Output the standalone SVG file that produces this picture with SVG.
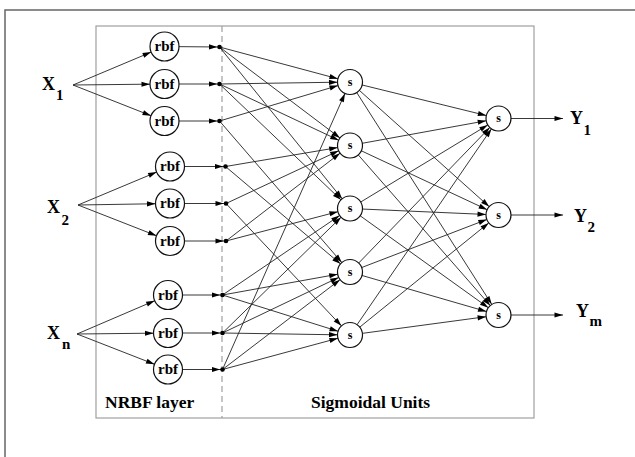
<svg xmlns="http://www.w3.org/2000/svg" width="635" height="457" viewBox="0 0 635 457">
  <style>
    .frame { fill: none; stroke: #666; stroke-width: 1.5; }
    .box { fill: none; stroke: #a0a0a0; stroke-width: 1.2; }
    .divider { stroke: #a0a0a0; stroke-width: 1.2; stroke-dasharray: 6 4; }
    .edge { stroke: #222; stroke-width: 0.9; fill: none; }
    .node { fill: #fff; stroke: #111; stroke-width: 1.2; }
    .dot { fill: #000; }
    .lbl { font-family: "Liberation Serif", "Times New Roman", serif; font-weight: bold; fill: #000; }
    .rbf { font-size: 15px; text-anchor: middle; }
    .sig { font-size: 12px; text-anchor: middle; }
    .io { font-size: 18px; }
    .sub { font-size: 15px; }
    .cap { font-size: 17.5px; }
  </style>
  <defs>
    <!-- arrowheads drawn back from the line end by the radius of the target -->
    <marker id="toRbf" markerUnits="userSpaceOnUse" viewBox="-24 -4 26 8" markerWidth="26" markerHeight="8" refX="0" refY="0" orient="auto">
      <path d="M-23,-2.6 L-14.5,0 L-23,2.6 z" fill="#000"/>
    </marker>
    <marker id="toDot" markerUnits="userSpaceOnUse" viewBox="-12 -4 14 8" markerWidth="14" markerHeight="8" refX="0" refY="0" orient="auto">
      <path d="M-10.5,-2.6 L-2.3,0 L-10.5,2.6 z" fill="#000"/>
    </marker>
    <marker id="toSig" markerUnits="userSpaceOnUse" viewBox="-22 -4 24 8" markerWidth="24" markerHeight="8" refX="0" refY="0" orient="auto">
      <path d="M-21,-2.6 L-12.6,0 L-21,2.6 z" fill="#000"/>
    </marker>
    <marker id="toEnd" markerUnits="userSpaceOnUse" viewBox="-10 -4 12 8" markerWidth="12" markerHeight="8" refX="0" refY="0" orient="auto">
      <path d="M-8.5,-2.6 L0,0 L-8.5,2.6 z" fill="#000"/>
    </marker>
  </defs>

  <rect width="635" height="457" fill="#fff"/>
  <path class="frame" d="M5,457 V10 H635"/>
  <rect class="box" x="96" y="26" width="438" height="392"/>
  <line class="divider" x1="222" y1="26" x2="222" y2="418"/>

  <g id="connectors">
    <!-- inputs to rbf units -->
    <line class="edge" x1="73" y1="85" x2="164.5" y2="46.5" marker-end="url(#toRbf)"/>
    <line class="edge" x1="73" y1="85" x2="164.5" y2="84" marker-end="url(#toRbf)"/>
    <line class="edge" x1="73" y1="85" x2="164.5" y2="121" marker-end="url(#toRbf)"/>
    <line class="edge" x1="78" y1="205" x2="170" y2="166.5" marker-end="url(#toRbf)"/>
    <line class="edge" x1="78" y1="205" x2="170" y2="203.5" marker-end="url(#toRbf)"/>
    <line class="edge" x1="78" y1="205" x2="170" y2="241" marker-end="url(#toRbf)"/>
    <line class="edge" x1="77" y1="334" x2="168" y2="295" marker-end="url(#toRbf)"/>
    <line class="edge" x1="77" y1="334" x2="168" y2="333" marker-end="url(#toRbf)"/>
    <line class="edge" x1="77" y1="334" x2="168" y2="369.5" marker-end="url(#toRbf)"/>
    <!-- rbf units to normalisation points -->
    <line class="edge" x1="164.5" y1="46.5" x2="219.5" y2="47" marker-end="url(#toDot)"/>
    <line class="edge" x1="164.5" y1="84" x2="219.5" y2="84" marker-end="url(#toDot)"/>
    <line class="edge" x1="164.5" y1="121" x2="219.5" y2="121" marker-end="url(#toDot)"/>
    <line class="edge" x1="170" y1="166.5" x2="225.5" y2="166.5" marker-end="url(#toDot)"/>
    <line class="edge" x1="170" y1="203.5" x2="226" y2="203.5" marker-end="url(#toDot)"/>
    <line class="edge" x1="170" y1="241" x2="226" y2="241" marker-end="url(#toDot)"/>
    <line class="edge" x1="168" y1="295" x2="222.5" y2="295" marker-end="url(#toDot)"/>
    <line class="edge" x1="168" y1="333" x2="222.5" y2="333" marker-end="url(#toDot)"/>
    <line class="edge" x1="168" y1="369.5" x2="222.5" y2="369.5" marker-end="url(#toDot)"/>
    <!-- normalised outputs to sigmoidal units -->
    <line class="edge" x1="219.5" y1="47" x2="350" y2="82" marker-end="url(#toSig)"/>
    <line class="edge" x1="219.5" y1="47" x2="350" y2="145.5" marker-end="url(#toSig)"/>
    <line class="edge" x1="219.5" y1="47" x2="350" y2="208.5" marker-end="url(#toSig)"/>
    <line class="edge" x1="219.5" y1="84" x2="350" y2="82" marker-end="url(#toSig)"/>
    <line class="edge" x1="219.5" y1="84" x2="350" y2="145.5" marker-end="url(#toSig)"/>
    <line class="edge" x1="219.5" y1="84" x2="350" y2="208.5" marker-end="url(#toSig)"/>
    <line class="edge" x1="219.5" y1="121" x2="350" y2="82" marker-end="url(#toSig)"/>
    <line class="edge" x1="219.5" y1="121" x2="350" y2="272" marker-end="url(#toSig)"/>
    <line class="edge" x1="225.5" y1="166.5" x2="350" y2="145.5" marker-end="url(#toSig)"/>
    <line class="edge" x1="225.5" y1="166.5" x2="350" y2="272" marker-end="url(#toSig)"/>
    <line class="edge" x1="226" y1="203.5" x2="350" y2="145.5" marker-end="url(#toSig)"/>
    <line class="edge" x1="226" y1="203.5" x2="350" y2="335" marker-end="url(#toSig)"/>
    <line class="edge" x1="226" y1="241" x2="350" y2="208.5" marker-end="url(#toSig)"/>
    <line class="edge" x1="226" y1="241" x2="350" y2="145.5" marker-end="url(#toSig)"/>
    <line class="edge" x1="222.5" y1="295" x2="350" y2="208.5" marker-end="url(#toSig)"/>
    <line class="edge" x1="222.5" y1="295" x2="350" y2="272" marker-end="url(#toSig)"/>
    <line class="edge" x1="222.5" y1="295" x2="350" y2="335" marker-end="url(#toSig)"/>
    <line class="edge" x1="222.5" y1="333" x2="350" y2="208.5" marker-end="url(#toSig)"/>
    <line class="edge" x1="222.5" y1="333" x2="350" y2="272" marker-end="url(#toSig)"/>
    <line class="edge" x1="222.5" y1="333" x2="350" y2="335" marker-end="url(#toSig)"/>
    <line class="edge" x1="222.5" y1="369.5" x2="350" y2="82" marker-end="url(#toSig)"/>
    <line class="edge" x1="222.5" y1="369.5" x2="350" y2="272" marker-end="url(#toSig)"/>
    <line class="edge" x1="222.5" y1="369.5" x2="350" y2="335" marker-end="url(#toSig)"/>
    <!-- sigmoidal units to output units -->
    <line class="edge" x1="350" y1="82" x2="498.5" y2="118.5" marker-end="url(#toSig)"/>
    <line class="edge" x1="350" y1="82" x2="498.5" y2="215" marker-end="url(#toSig)"/>
    <line class="edge" x1="350" y1="82" x2="498.5" y2="315" marker-end="url(#toSig)"/>
    <line class="edge" x1="350" y1="145.5" x2="498.5" y2="118.5" marker-end="url(#toSig)"/>
    <line class="edge" x1="350" y1="145.5" x2="498.5" y2="215" marker-end="url(#toSig)"/>
    <line class="edge" x1="350" y1="145.5" x2="498.5" y2="315" marker-end="url(#toSig)"/>
    <line class="edge" x1="350" y1="208.5" x2="498.5" y2="118.5" marker-end="url(#toSig)"/>
    <line class="edge" x1="350" y1="208.5" x2="498.5" y2="215" marker-end="url(#toSig)"/>
    <line class="edge" x1="350" y1="208.5" x2="498.5" y2="315" marker-end="url(#toSig)"/>
    <line class="edge" x1="350" y1="272" x2="498.5" y2="118.5" marker-end="url(#toSig)"/>
    <line class="edge" x1="350" y1="272" x2="498.5" y2="215" marker-end="url(#toSig)"/>
    <line class="edge" x1="350" y1="272" x2="498.5" y2="315" marker-end="url(#toSig)"/>
    <line class="edge" x1="350" y1="335" x2="498.5" y2="118.5" marker-end="url(#toSig)"/>
    <line class="edge" x1="350" y1="335" x2="498.5" y2="215" marker-end="url(#toSig)"/>
    <line class="edge" x1="350" y1="335" x2="498.5" y2="315" marker-end="url(#toSig)"/>
    <!-- outputs -->
    <line class="edge" x1="498.5" y1="118.5" x2="563" y2="118.5" marker-end="url(#toEnd)"/>
    <line class="edge" x1="498.5" y1="215" x2="563" y2="215" marker-end="url(#toEnd)"/>
    <line class="edge" x1="498.5" y1="315" x2="563" y2="315" marker-end="url(#toEnd)"/>
  </g>

  <g id="x1"><text class="lbl io" x="42" y="90">X</text><text class="lbl sub" x="56" y="100">1</text></g>
  <g id="x2"><text class="lbl io" x="47" y="213">X</text><text class="lbl sub" x="61.5" y="225">2</text></g>
  <g id="xn"><text class="lbl io" x="47" y="339">X</text><text class="lbl sub" x="62" y="349">n</text></g>

  <g id="rbf1"><circle class="node" cx="164.5" cy="46.5" r="14.5"/><text class="lbl rbf" x="164.5" y="51">rbf</text></g>
  <g id="rbf2"><circle class="node" cx="164.5" cy="84" r="14.5"/><text class="lbl rbf" x="164.5" y="88.5">rbf</text></g>
  <g id="rbf3"><circle class="node" cx="164.5" cy="121" r="14.5"/><text class="lbl rbf" x="164.5" y="125.5">rbf</text></g>
  <g id="rbf4"><circle class="node" cx="170" cy="166.5" r="14.5"/><text class="lbl rbf" x="170" y="171">rbf</text></g>
  <g id="rbf5"><circle class="node" cx="170" cy="203.5" r="14.5"/><text class="lbl rbf" x="170" y="208">rbf</text></g>
  <g id="rbf6"><circle class="node" cx="170" cy="241" r="14.5"/><text class="lbl rbf" x="170" y="245.5">rbf</text></g>
  <g id="rbf7"><circle class="node" cx="168" cy="295" r="14.5"/><text class="lbl rbf" x="168" y="299.5">rbf</text></g>
  <g id="rbf8"><circle class="node" cx="168" cy="333" r="14.5"/><text class="lbl rbf" x="168" y="337.5">rbf</text></g>
  <g id="rbf9"><circle class="node" cx="168" cy="369.5" r="14.5"/><text class="lbl rbf" x="168" y="374">rbf</text></g>

  <g id="norm">
    <circle class="dot" cx="219.5" cy="47" r="2.3"/>
    <circle class="dot" cx="219.5" cy="84" r="2.3"/>
    <circle class="dot" cx="219.5" cy="121" r="2.3"/>
    <circle class="dot" cx="225.5" cy="166.5" r="2.3"/>
    <circle class="dot" cx="226" cy="203.5" r="2.3"/>
    <circle class="dot" cx="226" cy="241" r="2.3"/>
    <circle class="dot" cx="222.5" cy="295" r="2.3"/>
    <circle class="dot" cx="222.5" cy="333" r="2.3"/>
    <circle class="dot" cx="222.5" cy="369.5" r="2.3"/>
  </g>

  <g id="sig1"><circle class="node" cx="350" cy="82" r="12.5"/><text class="lbl sig" x="350" y="85.5">s</text></g>
  <g id="sig2"><circle class="node" cx="350" cy="145.5" r="12.5"/><text class="lbl sig" x="350" y="149">s</text></g>
  <g id="sig3"><circle class="node" cx="350" cy="208.5" r="12.5"/><text class="lbl sig" x="350" y="212">s</text></g>
  <g id="sig4"><circle class="node" cx="350" cy="272" r="12.5"/><text class="lbl sig" x="350" y="275.5">s</text></g>
  <g id="sig5"><circle class="node" cx="350" cy="335" r="12.5"/><text class="lbl sig" x="350" y="338.5">s</text></g>

  <g id="out1"><circle class="node" cx="498.5" cy="118.5" r="12.5"/><text class="lbl sig" x="498.5" y="122">s</text></g>
  <g id="out2"><circle class="node" cx="498.5" cy="215" r="12.5"/><text class="lbl sig" x="498.5" y="218.5">s</text></g>
  <g id="out3"><circle class="node" cx="498.5" cy="315" r="12.5"/><text class="lbl sig" x="498.5" y="318.5">s</text></g>

  <g id="y1"><text class="lbl io" x="570" y="124">Y</text><text class="lbl sub" x="583.5" y="135">1</text></g>
  <g id="y2"><text class="lbl io" x="574" y="222">Y</text><text class="lbl sub" x="587.5" y="232">2</text></g>
  <g id="ym"><text class="lbl io" x="576" y="317">Y</text><text class="lbl sub" x="589.5" y="326">m</text></g>

  <text class="lbl cap" x="105" y="407.5">NRBF layer</text>
  <text class="lbl cap" x="311" y="407.5">Sigmoidal Units</text>
</svg>
